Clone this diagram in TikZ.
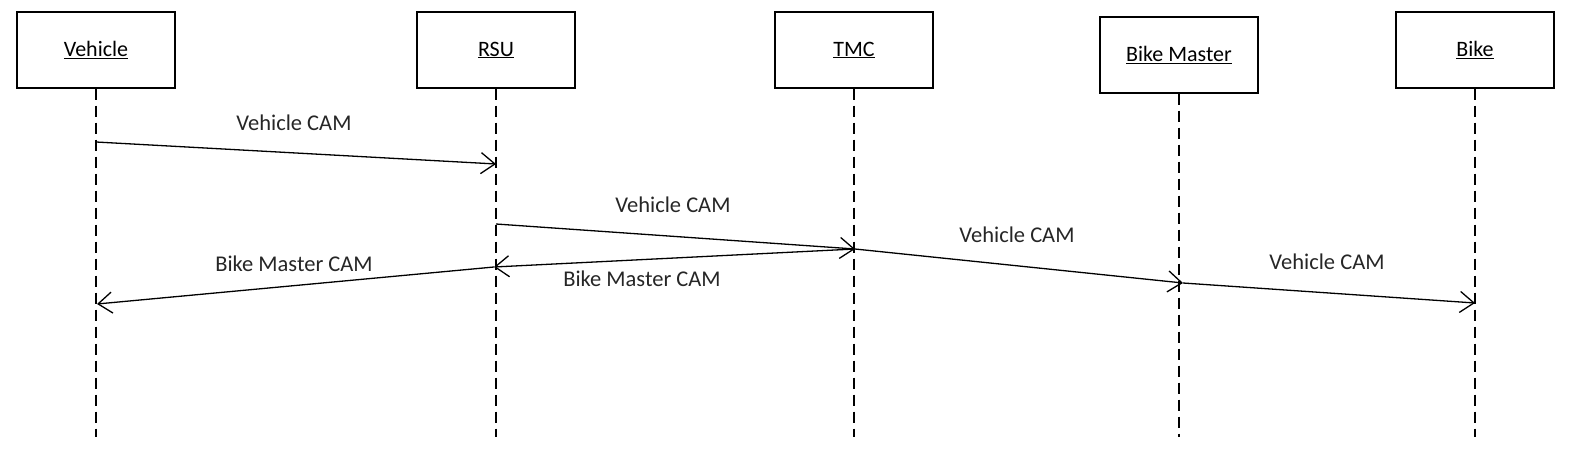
\documentclass[tikz,border=0pt]{standalone}
\usepackage{fontspec}
\setmainfont{Carlito}
\usetikzlibrary{arrows.meta}
\begin{document}
\begin{tikzpicture}[x=1pt,y=-1pt,
  obj/.style={draw, line width=1.2pt, minimum width=158pt, minimum height=76pt, inner sep=0pt, font=\fontsize{22}{26}\selectfont},
  lifeline/.style={line width=1.3pt, dash pattern=on 11pt off 6pt},
  msg/.style={line width=1.3pt, -{Straight Barb[length=14pt,width=21pt,line width=1.3pt]}},
  lbl/.style={font=\fontsize{22.5}{26}\selectfont, text=black!85, inner sep=1pt}]
\useasboundingbox (0,0) rectangle (1572,460);
% objects
\node[obj] (veh) at (96,50) {\underline{Vehicle}};
\node[obj] (rsu) at (496,50) {\underline{RSU}};
\node[obj] (tmc) at (854,50) {\underline{TMC}};
\node[obj] (bm) at (1179,55) {\underline{Bike Master}};
\node[obj] (bike) at (1475,50) {\underline{Bike}};
% lifeline ends
\coordinate (vehE) at (96,437);
\coordinate (rsuE) at (496,437);
\coordinate (tmcE) at (854,437);
\coordinate (bmE) at (1179,437);
\coordinate (bikeE) at (1475,437);
\draw[lifeline] (veh.south) -- (vehE);
\draw[lifeline] (rsu.south) -- (rsuE);
\draw[lifeline] (tmc.south) -- (tmcE);
\draw[lifeline] (bm.south) -- (bmE);
\draw[lifeline] (bike.south) -- (bikeE);
% message points
\coordinate (v1) at (96,142);
\coordinate (r1) at (496,164);
\coordinate (r2) at (496,224);
\coordinate (t2) at (855,249);
\coordinate (r3) at (494,267);
\coordinate (v4) at (97,304);
\coordinate (bm5) at (1183,283);
\coordinate (b6) at (1475,303);
% messages
\draw[msg] (v1) -- (r1);
\draw[msg] (r2) -- (t2);
\draw[msg] (t2) -- (r3);
\draw[msg] (r3) -- (v4);
\draw[msg] (t2) -- (bm5);
\draw[msg] (bm5) -- (b6);
% labels
\node[lbl] (l1) at (294,123) {Vehicle CAM};
\node[lbl] (l2) at (673,205) {Vehicle CAM};
\node[lbl] (l3) at (642,279) {Bike Master CAM};
\node[lbl, fill=white, inner sep=0pt] (l4) at (294,264) {Bike Master CAM};
\node[lbl] (l5) at (1017,235) {Vehicle CAM};
\node[lbl] (l6) at (1327,262) {Vehicle CAM};
\end{tikzpicture}
\end{document}
